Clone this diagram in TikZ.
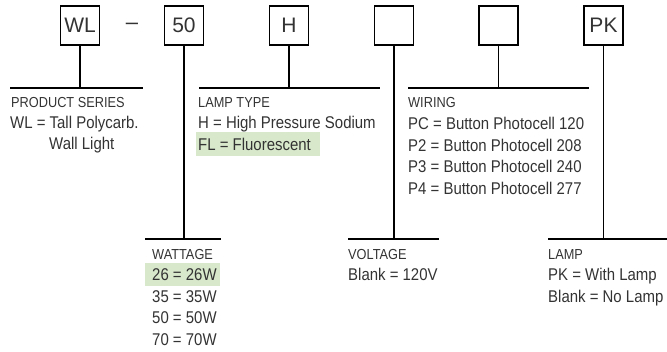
\documentclass[tikz,border=0pt]{standalone}
\usepackage{fontspec}
\setmainfont{Liberation Sans}
\newfontfamily\narrowfont[FakeStretch=0.88]{Liberation Sans}
\definecolor{txt}{HTML}{333333}
\definecolor{hl}{HTML}{D7E8CB}
\begin{document}
\begin{tikzpicture}[x=1pt,y=-1pt,
  codebox/.style={draw=black,line width=1.6pt,minimum width=39pt,minimum height=39pt,inner sep=0pt,text=txt,font=\fontsize{21}{21}\selectfont},
  bar/.style={line width=1.8pt,black},
  ttl/.style={anchor=base west,inner sep=0pt,text=txt,font=\narrowfont\fontsize{14.5}{15}\selectfont},
  itm/.style={anchor=base west,inner sep=0pt,text=txt,font=\narrowfont\fontsize{17}{18}\selectfont}]
\useasboundingbox (0,0) rectangle (667,351);
% highlights
\fill[hl] (196,132) rectangle (320,156);
\fill[hl] (145,263) rectangle (220,286);
% code boxes
\node[codebox] (wl) at (80,25.5) {WL};
\node[text=txt,font=\fontsize{22}{22}\selectfont,inner sep=0pt] (dash) at (132,26) {–};
\node[codebox] (w50) at (184,25.5) {50};
\node[codebox] (h) at (289,25.5) {H};
\node[codebox] (v) at (394,25.5) {};
\node[codebox] (wr) at (498.5,25.5) {};
\node[codebox] (pk) at (603.5,25.5) {PK};
% bar coordinates
\coordinate (wlb) at (80,88);
\coordinate (w50b) at (184,239);
\coordinate (hb) at (289,88);
\coordinate (vb) at (394,239);
\coordinate (wrb) at (498.5,88);
\coordinate (pkb) at (603.5,239);
\draw[bar] (wl.south) -- (wlb);
\draw[bar] (w50.south) -- (w50b);
\draw[bar] (h.south) -- (hb);
\draw[bar] (v.south) -- (vb);
\draw[bar] (wr.south) -- (wrb);
\draw[bar] (pk.south) -- (pkb);
\coordinate (wlL) at (10,88); \coordinate (wlR) at (143,88);
\coordinate (w50L) at (145,239); \coordinate (w50R) at (221,239);
\coordinate (hL) at (199,88); \coordinate (hR) at (380,88);
\coordinate (vL) at (348,239); \coordinate (vR) at (439,239);
\coordinate (wrL) at (408,88); \coordinate (wrR) at (589,88);
\coordinate (pkL) at (548,239); \coordinate (pkR) at (667,239);
\draw[bar] (wlL) -- (wlR);
\draw[bar] (w50L) -- (w50R);
\draw[bar] (hL) -- (hR);
\draw[bar] (vL) -- (vR);
\draw[bar] (wrL) -- (wrR);
\draw[bar] (pkL) -- (pkR);
% product series
\node[ttl] (t1) at (11,107) {PRODUCT SERIES};
\node[itm] (t1a) at (10,128.5) {WL = Tall Polycarb.};
\node[itm] (t1b) at (49,149) {Wall Light};
% lamp type
\node[ttl] (t2) at (198,107) {LAMP TYPE};
\node[itm] (t2a) at (198,128.5) {H = High Pressure Sodium};
\node[itm] (t2b) at (198,150.5) {FL = Fluorescent};
% wiring
\node[ttl] (t3) at (408,107) {WIRING};
\node[itm] (t3a) at (408,129) {PC = Button Photocell 120};
\node[itm] (t3b) at (408,151) {P2 = Button Photocell 208};
\node[itm] (t3c) at (408,172.5) {P3 = Button Photocell 240};
\node[itm] (t3d) at (408,194) {P4 = Button Photocell 277};
% wattage
\node[ttl] (t4) at (152,259) {WATTAGE};
\node[itm] (t4a) at (152,280) {26 = 26W};
\node[itm] (t4b) at (152,302) {35 = 35W};
\node[itm] (t4c) at (152,323.5) {50 = 50W};
\node[itm] (t4d) at (152,345) {70 = 70W};
% voltage
\node[ttl] (t5) at (348,259) {VOLTAGE};
\node[itm] (t5a) at (348,280) {Blank = 120V};
% lamp
\node[ttl] (t6) at (548,259) {LAMP};
\node[itm] (t6a) at (548,280) {PK = With Lamp};
\node[itm] (t6b) at (548,302) {Blank = No Lamp};
\end{tikzpicture}
\end{document}
